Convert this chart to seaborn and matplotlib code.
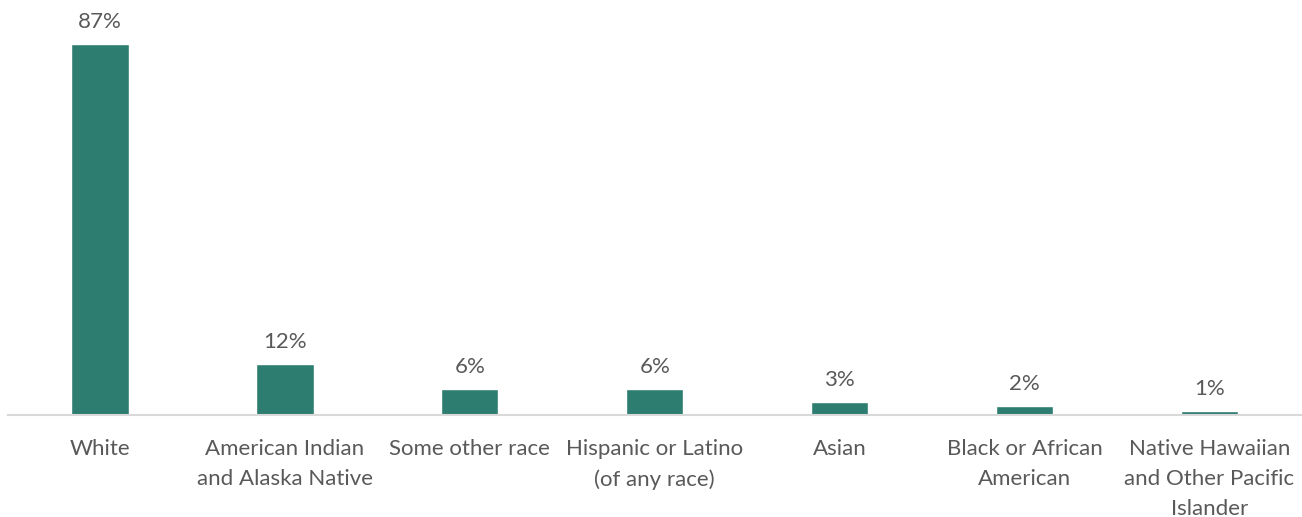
import matplotlib
matplotlib.use("Agg")
import matplotlib.pyplot as plt
import seaborn as sns
import pandas as pd

categories = [
    "White",
    "American Indian\nand Alaska Native",
    "Some other race",
    "Hispanic or Latino\n(of any race)",
    "Asian",
    "Black or African\nAmerican",
    "Native Hawaiian\nand Other Pacific\nIslander",
]
percent = [87, 12, 6, 6, 3, 2, 1]

BAR = "#2E7D71"
TEXT = "#595959"

sns.set_theme(style="white")
plt.rcParams["font.family"] = ["Lato", "DejaVu Sans"]

df = pd.DataFrame({"category": categories, "percent": percent})

fig = plt.figure(figsize=(13.02, 5.17), dpi=100)
ax = fig.add_axes([7.5 / 1302, 102 / 517, 1 - 7.5 / 1302, 415 / 517])

sns.barplot(data=df, x="category", y="percent", color=BAR, width=0.31,
            saturation=1, ax=ax)

ax.set_ylim(0, 87 * 415 / 371)
ax.set_xlim(-0.5, len(categories) - 0.5)
ax.set_xlabel("")
ax.set_ylabel("")
ax.set_yticks([])
for s in ["top", "right", "left"]:
    ax.spines[s].set_visible(False)
ax.spines["bottom"].set_color("#D9D9D9")
ax.spines["bottom"].set_linewidth(1.5)

ax.tick_params(axis="x", length=0, pad=17.5, labelsize=16, labelcolor=TEXT)
for lbl in ax.get_xticklabels():
    lbl.set_linespacing(1.6)
    lbl.set_verticalalignment("top")

for i, v in enumerate(percent):
    ax.annotate(f"{v}%", (i, v), xytext=(0, 16), textcoords="offset points",
                ha="center", va="center", fontsize=16, color=TEXT)

fig.savefig("out.png", dpi=100)
